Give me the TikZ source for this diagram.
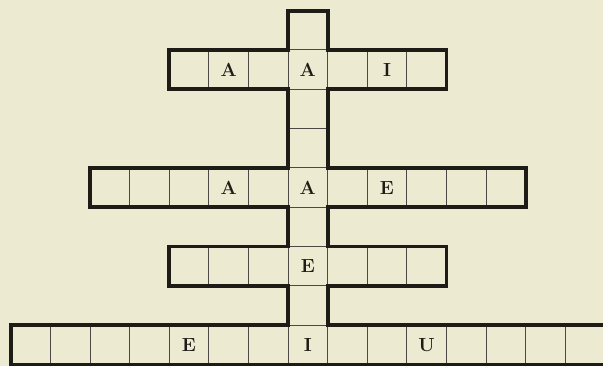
\documentclass[tikz,border=0pt]{standalone}
\definecolor{paper}{RGB}{236,234,208}
\definecolor{ink}{RGB}{30,28,22}
\begin{document}
\begin{tikzpicture}[x=39.6pt,y=-39.3pt,
  cellbox/.style={draw=ink!80,line width=1pt,minimum width=39.6pt,minimum height=39.3pt,
    inner sep=0pt,outer sep=0pt,anchor=north west},
  lettr/.style={text=ink,inner sep=0pt,font=\fontsize{19}{19}\selectfont\bfseries},
  outline/.style={draw=ink,line width=3.8pt,line join=miter}]
\fill[paper] (-0.2727,-1.2723) rectangle (14.9545,8.0407);
\useasboundingbox (-0.2727,-1.2723) rectangle (14.9545,8.0407);
% cells of the four across words
\foreach \j/\a/\b in {0/4/10, 3/2/12, 5/4/10, 7/0/14}
  \foreach \m in {\a,...,\b}
    \node[cellbox] (c\j-\m) at (\m,\j) {};
% cells of the down word outside the rows
\foreach \j in {-1,1,2,4,6}
  \node[cellbox] (k\j) at (7,\j) {};
% letters
\node[lettr] (t1) at (c0-5.center) {A};
\node[lettr] (t2) at (c0-7.center) {A};
\node[lettr] (t3) at (c0-9.center) {I};
\node[lettr] (t4) at (c3-5.center) {A};
\node[lettr] (t5) at (c3-7.center) {A};
\node[lettr] (t6) at (c3-9.center) {E};
\node[lettr] (t7) at (c5-7.center) {E};
\node[lettr] (t8) at (c7-4.center) {E};
\node[lettr] (t9) at (c7-7.center) {I};
\node[lettr] (t10) at (c7-10.center) {U};
% thick outline
\draw[outline] (7,-1) -- (8,-1) -- (8,0) -- (11,0) -- (11,1) -- (8,1) -- (8,3)
  -- (13,3) -- (13,4) -- (8,4) -- (8,5) -- (11,5) -- (11,6) -- (8,6) -- (8,7)
  -- (15.3,7) -- (15.3,8) -- (0,8) -- (0,7) -- (7,7) -- (7,6) -- (4,6) -- (4,5)
  -- (7,5) -- (7,4) -- (2,4) -- (2,3) -- (7,3) -- (7,1) -- (4,1) -- (4,0)
  -- (7,0) -- cycle;
\end{tikzpicture}
\end{document}
